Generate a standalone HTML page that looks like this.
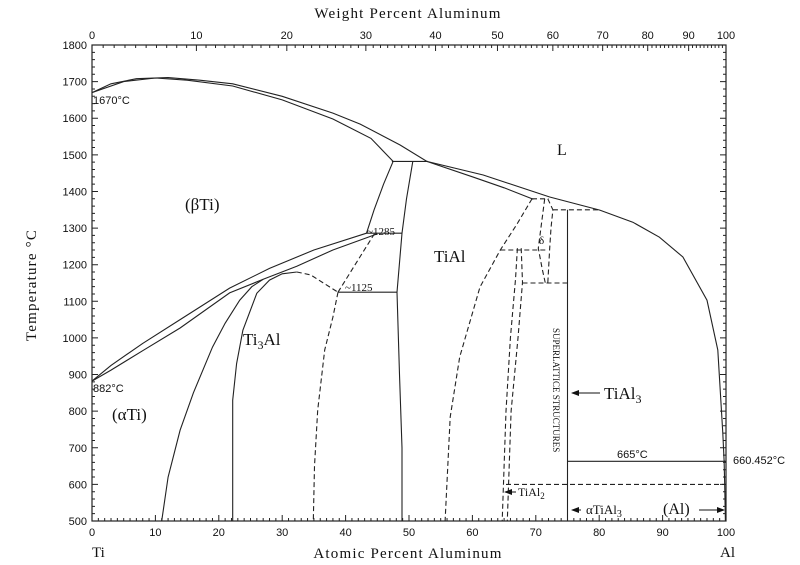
<!DOCTYPE html>
<html><head><meta charset="utf-8">
<style>
html,body{margin:0;padding:0;background:#fff;}
svg{display:block;}
text{font-family:"Liberation Serif",serif;fill:#111;}
.tk{font-family:"Liberation Sans",sans-serif;font-size:11px;}
.ln{fill:none;stroke:#222;stroke-width:1.1;}
.ds{fill:none;stroke:#222;stroke-width:1.1;stroke-dasharray:5,3;}
</style></head>
<body>
<svg id="chart" width="800" height="565" viewBox="0 0 800 565"></svg>
<script>
// ---- data (atomic % Al, temperature °C) ----
const xTicks = [0,10,20,30,40,50,60,70,80,90,100];
const yTicks = [500,600,700,800,900,1000,1100,1200,1300,1400,1500,1600,1700,1800];
const wtTicks = [0,10,20,30,40,50,60,70,80,90,100];
const liquidus = [[0,1670],[3,1694],[7,1708],[12,1711],[17,1704],[22.2,1694],[30,1660],[38,1614],[42.3,1584],[48.6,1527],[52.8,1482],[61.7,1445],[72.2,1385],[80.1,1349],[85.3,1316],[89.5,1275],[93.2,1221],[97,1103],[98.7,967],[99.5,740],[99.7,665],[100,660]];
const betaSolidus = [[0,1670],[5,1700],[10,1710],[15,1704],[22.2,1688],[30,1650],[38,1598],[44,1545],[47.5,1482]];
const tialSolidus = [[52.8,1482],[60,1440],[65,1410],[69.6,1379]];
const alSolvus = [[99.7,665],[99.8,600],[99.9,500]];
const betaTransusUpper = [[0,882],[3,925],[8,985],[13.9,1050],[21.7,1136],[28,1190],[35,1240],[43.3,1286]];
const betaTransusLower = [[0,882],[3,912],[8,965],[13.9,1027],[21.7,1123],[27,1160],[32.3,1196],[38,1240],[45,1284]];
const betaAlphaLine = [[47.5,1482],[46,1420],[44.5,1350],[43.3,1286]];
const tialLeft = [[50.6,1482],[49.6,1380],[48.9,1286],[48.1,1125],[48.5,900],[48.9,700],[48.9,500]];
const alphaSolvus = [[11,500],[12,620],[13.9,748],[16,850],[19,975],[21,1040],[23.3,1103],[25.2,1140],[27,1160]];
const alpha2Left = [[22.2,500],[22.2,700],[22.2,830],[22.8,930],[23.8,1021],[26,1122],[28,1158],[30,1175],[32.3,1180]];
const alpha2DomeDash = [[32.3,1180],[34.5,1172],[36.5,1150],[38.8,1125]];
const alpha2RightDash = [[38.8,1125],[38,1057],[36.7,967],[35.6,803],[35.1,650],[34.9,500]];
const eutectoidDash = [[38.8,1125],[41.5,1200],[44.6,1286]];
const tialRightDash = [[69.4,1380],[67,1310],[64.4,1240],[61.2,1139],[58,948],[56.5,784],[55.7,500]];
const deltaLeftDash = [[71.4,1380],[70.8,1300],[70.4,1245],[71,1190],[71.5,1150]];
const deltaRightDash = [[71.9,1380],[72.7,1350],[72.4,1300],[72.2,1245],[71.9,1150]];
const tial2LeftDash = [[67.1,1245],[66.8,1160],[66,1000],[65.3,800],[64.7,500]];
const tial2RightDash = [[67.7,1245],[67.9,1152],[67.2,1000],[66.1,800],[65.5,500]];
const hLines = [[47.3,53,1482,0],[43.3,48.9,1286,0],[38.8,48.1,1125,0],[75,100,663,0]];
const hDashes = [[69.4,72,1380,1],[72.7,80,1350,1],[64.4,71.5,1240,1],[67.9,75,1150,1],[65.3,100,600,1]];
const tial3Line = [[75,1350],[75,500]];

const NS='http://www.w3.org/2000/svg';
const svg=document.getElementById('chart');
const X0=92,X1=726,YT=45,YB=521;
function X(a){return X0+(a/100)*(X1-X0);}
function Y(t){return YB-(t-500)/1300*(YB-YT);}
function wtToAt(w){if(w>=100)return 100;const a=w/26.98,b=(100-w)/47.87;return a/(a+b)*100;}
function mk(tag,attrs,txt){const e=document.createElementNS(NS,tag);for(const k in attrs)e.setAttribute(k,attrs[k]);if(txt!==undefined)e.textContent=txt;svg.appendChild(e);return e;}
function path(pts,cls,name){
  const d=pts.map((p,i)=>(i?'L':'M')+X(p[0]).toFixed(1)+','+Y(p[1]).toFixed(1)).join(' ');
  const e=mk('path',{d:d,class:cls});
  
  
}
const fr=mk('rect',{x:X0,y:YT,width:X1-X0,height:YB-YT,fill:'none',stroke:'#222','stroke-width':1.2});


let tk='';
for(let a=0;a<=100;a++){const L=a%10===0?6:3;tk+=`M${X(a)},${YB}v${-L}`;}
for(let t=500;t<=1800;t+=20){const L=t%100===0?6:3;tk+=`M${X0},${Y(t)}h${L}M${X1},${Y(t)}h${-L}`;}
for(let w=0;w<=100;w++){const L=w%10===0?6:3;tk+=`M${X(wtToAt(w))},${YT}v${L}`;}
const tp=mk('path',{d:tk,stroke:'#222','stroke-width':1,fill:'none'});


xTicks.forEach(v=>{const e=mk('text',{x:X(v),y:YB+15,'text-anchor':'middle',class:'tk'},v);
  
  });
yTicks.forEach(v=>{const e=mk('text',{x:X0-5,y:Y(v)+4,'text-anchor':'end',class:'tk'},v);
  
  });
wtTicks.forEach(v=>{const e=mk('text',{x:X(wtToAt(v)),y:YT-6,'text-anchor':'middle',class:'tk'},v);
  
  });
path(liquidus,'ln','liquidus');
path(betaSolidus,'ln','beta-solidus');
path(tialSolidus,'ln','tial-solidus');
path(alSolvus,'ln','al-solvus');
path(betaTransusUpper,'ln','beta-transus-upper');
path(betaTransusLower,'ln','beta-transus-lower');
path(betaAlphaLine,'ln','beta-alpha-boundary');
path(tialLeft,'ln','tial-left-boundary');
path(alphaSolvus,'ln','alpha-solvus');
path(alpha2Left,'ln','alpha2-left-boundary');
path(alpha2DomeDash,'ds','alpha2-dome');
path(alpha2RightDash,'ds','alpha2-right-boundary');
path(eutectoidDash,'ds','eutectoid-dash');
path(tialRightDash,'ds','tial-right-boundary');
path(deltaLeftDash,'ds','delta-left');
path(deltaRightDash,'ds','delta-right');
path(tial2LeftDash,'ds','tial2-left');
path(tial2RightDash,'ds','tial2-right');
path(tial3Line,'ln','tial3-line');
hLines.forEach(h=>path([[h[0],h[2]],[h[1],h[2]]],'ln','isotherm'));
hDashes.forEach(h=>path([[h[0],h[2]],[h[1],h[2]]],'ds','isotherm-dashed'));
</script>
<svg width="800" height="565" style="position:absolute;left:0;top:0">
<defs><marker id="ah" markerWidth="8" markerHeight="6" refX="7" refY="3" orient="auto"><path d="M0,0L8,3L0,6z" fill="#111"/></marker></defs>
<text x="408" y="18" text-anchor="middle" font-size="15" letter-spacing="1.2">Weight Percent Aluminum</text>
<text x="408" y="558" text-anchor="middle" font-size="15" letter-spacing="1.2">Atomic Percent Aluminum</text>
<text transform="translate(36,285) rotate(-90)" text-anchor="middle" font-size="15" letter-spacing="1.2">Temperature °C</text>
<text x="92" y="557" font-size="15">Ti</text>
<text x="720" y="557" font-size="15">Al</text>
<text x="93" y="104" class="tk">1670°C</text>
<text x="185" y="210" font-size="17">(βTi)</text>
<text x="557" y="155" font-size="16">L</text>
<text x="434" y="262" font-size="17">TiAl</text>
<text x="367" y="235" font-size="11" font-family="Liberation Sans">~1285</text>
<text x="345" y="291" font-size="11" font-family="Liberation Sans">~1125</text>
<text x="243" y="345" font-size="17">Ti<tspan font-size="12" dy="4">3</tspan><tspan dy="-4">Al</tspan></text>
<text x="93" y="392" class="tk">882°C</text>
<text x="112" y="420" font-size="17">(αTi)</text>
<text x="539" y="244" font-size="11">δ</text>
<text transform="translate(553,328) rotate(90)" font-size="9">SUPERLATTICE STRUCTURES</text>
<line x1="600" y1="393" x2="572" y2="393" stroke="#111" marker-end="url(#ah)"/>
<text x="604" y="399" font-size="17">TiAl<tspan font-size="12" dy="4">3</tspan></text>
<text x="617" y="458" class="tk">665°C</text>
<text x="733" y="464" class="tk">660.452°C</text>
<line x1="516" y1="492" x2="505" y2="492" stroke="#111" marker-end="url(#ah)"/>
<text x="518" y="496" font-size="12">TiAl<tspan font-size="9" dy="3">2</tspan></text>
<line x1="581" y1="510" x2="572" y2="510" stroke="#111" marker-end="url(#ah)"/>
<text x="586" y="514" font-size="13">αTiAl<tspan font-size="10" dy="3">3</tspan></text>
<text x="663" y="514" font-size="16">(Al)</text>
<line x1="699" y1="510" x2="724" y2="510" stroke="#111" marker-end="url(#ah)"/>
</svg>
</body></html>
